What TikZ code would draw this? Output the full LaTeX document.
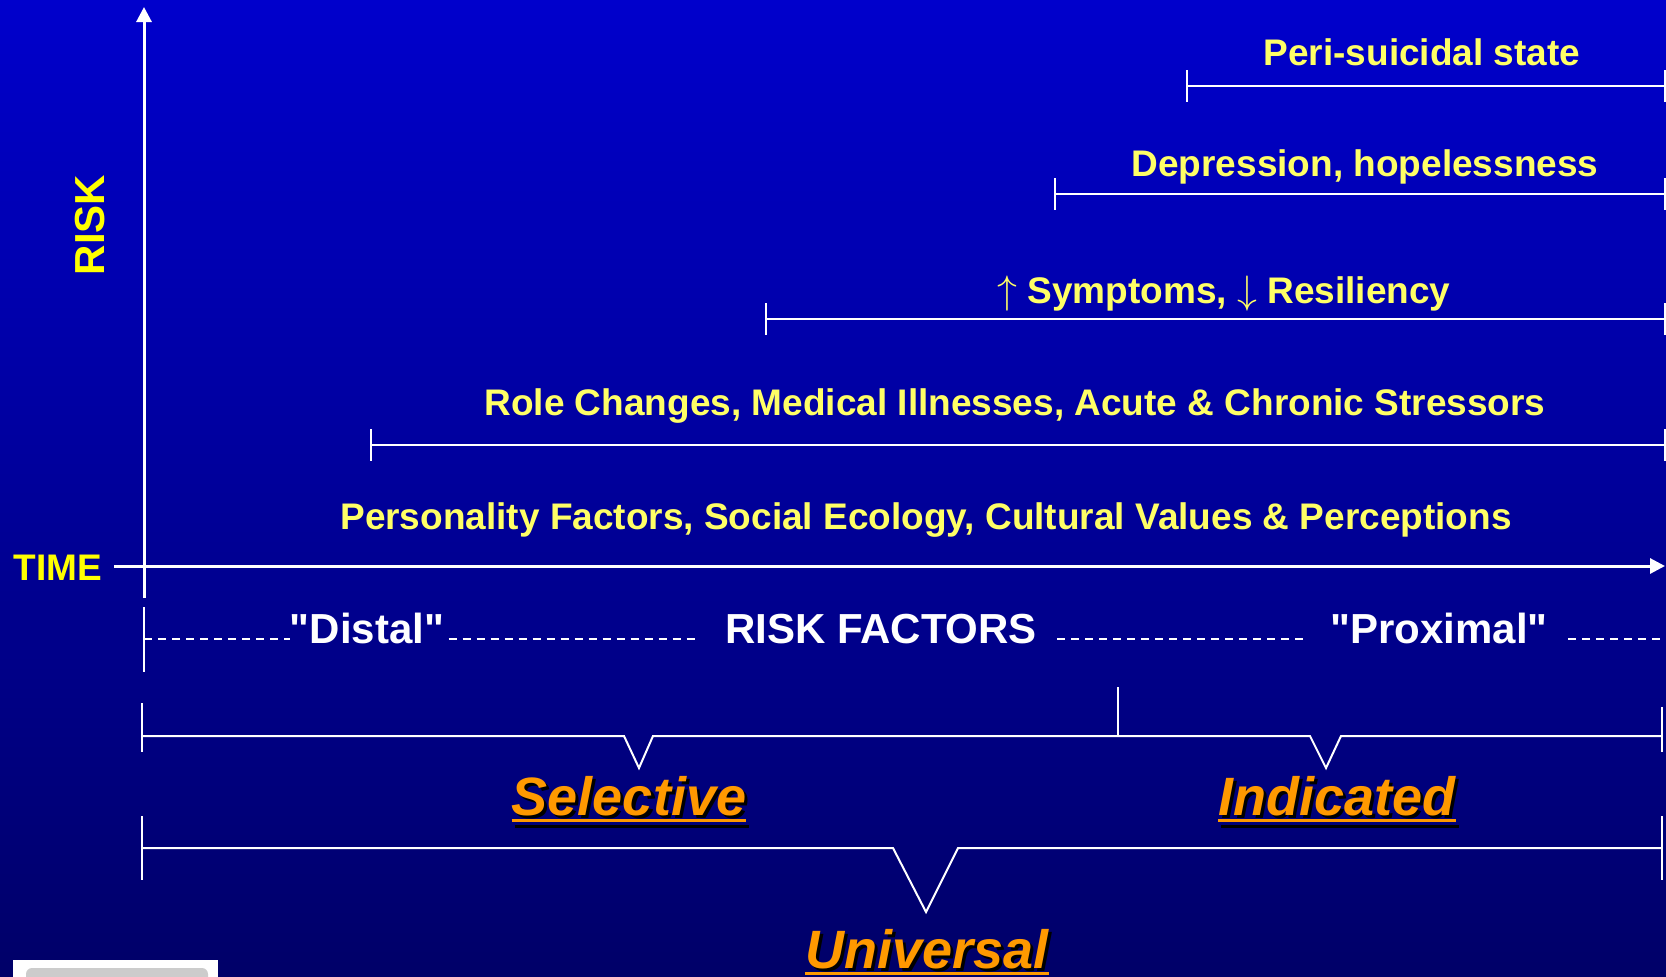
\documentclass[tikz,border=0pt]{standalone}
\usepackage{fontspec}
\setmainfont{Liberation Sans}[Ligatures=TeXOff]
\usetikzlibrary{calc,arrows.meta}
\definecolor{bgtop}{RGB}{0,0,204}
\definecolor{bgbot}{RGB}{0,0,104}
\definecolor{ylw}{RGB}{255,255,102}
\definecolor{ylwstrong}{RGB}{255,255,0}
\definecolor{org}{RGB}{255,153,0}
\definecolor{boxgray}{RGB}{204,204,204}
\begin{document}
\begin{tikzpicture}[x=0.5pt,y=-0.5pt,
  thinline/.style={draw=white,line width=1pt},
  axisline/.style={draw=white,line width=1.5pt,-{Triangle[length=7.5pt,width=7.5pt]}},
  dashline/.style={draw=white,line width=1pt,dash pattern=on 4pt off 3pt},
  factor/.style={text=ylw,font=\bfseries\fontsize{18.5}{22}\selectfont,inner sep=0,anchor=base},
  axislabel/.style={text=ylwstrong,font=\bfseries\fontsize{18.5}{22}\selectfont,inner sep=0,anchor=base},
  whitelabel/.style={text=white,font=\bfseries\fontsize{21}{25}\selectfont,inner sep=0,anchor=base},
  prevlabel/.style={text=org,font=\bfseries\itshape\fontsize{27}{32}\selectfont,inner sep=0,anchor=base},
  prevshadow/.style={text=black,font=\bfseries\itshape\fontsize{27}{32}\selectfont,inner sep=0,anchor=base},
  uline/.style={draw=org,line width=1.5pt},
  ulineshadow/.style={draw=black,line width=1.5pt}]
\clip (0,0) rectangle (1666,976);
\shade[top color=bgtop,bottom color=bgbot] (0,0) rectangle (1666,976);

% corner box
\fill[white] (13,960) rectangle (218,990);
\fill[boxgray,rounded corners=3pt] (26,968) rectangle (208,1000);

% axes
\coordinate (yb) at (144,598);
\coordinate (yt) at (144,7);
\coordinate (xl) at (114,566);
\coordinate (xr) at (1665,566);
\draw[axisline] (yb) -- (yt);
\draw[axisline] (xl) -- (xr);
\node[axislabel] (time) at (58,580) {TIME};
\node[text=ylwstrong,font=\bfseries\fontsize{21}{25}\selectfont,inner sep=0,anchor=base,rotate=90] (risk) at (104,225) {RISK};

% factor lines
\coordinate (a1) at (1187,86);  \coordinate (b1) at (1665,86);
\coordinate (a2) at (1055,194); \coordinate (b2) at (1665,194);
\coordinate (a3) at (766,319);  \coordinate (b3) at (1665,319);
\coordinate (a4) at (371,445);  \coordinate (b4) at (1665,445);
\foreach \i in {1,2,3,4}{
  \draw[thinline] (a\i) -- (b\i);
  \draw[thinline] ($(a\i)+(0,-16)$) -- ($(a\i)+(0,16)$);
  \draw[thinline] ($(b\i)+(0,-16)$) -- ($(b\i)+(0,16)$);
}
\node[factor] (peri) at (1422,65) {Peri-suicidal state};
\node[factor] (dep) at (1365,176) {Depression, hopelessness};
\node[factor] (sym) at (1224,303) {\scalebox{1.15}{$\uparrow$} Symptoms, \scalebox{1.15}{$\downarrow$} Resiliency};
\node[factor] (role) at (1015,415) {Role Changes, Medical Illnesses, Acute \& Chronic Stressors};
\node[factor] (pers) at (926,529) {Personality Factors, Social Ecology, Cultural Values \& Perceptions};

% risk factors dashed row
\coordinate (dt) at (144,607);
\coordinate (db) at (144,672);
\draw[thinline] (dt) -- (db);
\node[whitelabel] (distal) at (367,643) {"Distal"};
\node[whitelabel] (rf) at (881,643) {RISK FACTORS};
\node[whitelabel] (prox) at (1439,643) {"Proximal"};
\coordinate (d0) at (144,639);
\coordinate (d1) at (1666,639);
\draw[dashline] (d0) -- (d0 -| distal.west);
\draw[dashline] ($(d0 -| distal.east)+(4,0)$) -- ($(d0 -| rf.west)+(-30,0)$);
\draw[dashline] ($(d0 -| rf.east)+(20,0)$) -- ($(d0 -| prox.west)+(-26,0)$);
\draw[dashline] ($(d0 -| prox.east)+(20,0)$) -- (d1);

% selective / indicated brace
\coordinate (s0) at (142,736);
\coordinate (s1) at (624,736);
\coordinate (stip) at (639,768);
\coordinate (s2) at (653,736);
\coordinate (s3) at (1310,736);
\coordinate (itip) at (1326,768);
\coordinate (s4) at (1341,736);
\coordinate (s5) at (1662,736);
\draw[thinline] (s0) -- (s1) -- (stip) -- (s2) -- (s3) -- (itip) -- (s4) -- (s5);
\draw[thinline] (142,703) -- (142,752);
\draw[thinline] (1118,687) -- (1118,736);
\draw[thinline] (1662,707) -- (1662,752);

% universal brace
\coordinate (u0) at (142,848);
\coordinate (u1) at (893,848);
\coordinate (utip) at (926,912);
\coordinate (u2) at (958,848);
\coordinate (u3) at (1662,848);
\draw[thinline] (u0) -- (u1) -- (utip) -- (u2) -- (u3);
\draw[thinline] (142,816) -- (142,880);
\draw[thinline] (1662,816) -- (1662,880);

% prevention labels with shadow
\node[prevshadow] (selsh) at (632,818) {Selective};
\draw[ulineshadow] ($(selsh.base west)+(0,8)$) -- ($(selsh.base east)+(0,8)$);
\node[prevlabel] (sel) at (629,815) {Selective};
\draw[uline] ($(sel.base west)+(0,5)$) -- ($(sel.base east)+(0,5)$);

\node[prevshadow] (indsh) at (1340,818) {Indicated};
\draw[ulineshadow] ($(indsh.base west)+(0,8)$) -- ($(indsh.base east)+(0,8)$);
\node[prevlabel] (ind) at (1337,815) {Indicated};
\draw[uline] ($(ind.base west)+(0,5)$) -- ($(ind.base east)+(0,5)$);

\node[prevshadow] (unish) at (930,971) {Universal};
\draw[ulineshadow] ($(unish.base west)+(0,8)$) -- ($(unish.base east)+(0,8)$);
\node[prevlabel] (uni) at (927,968) {Universal};
\draw[uline] ($(uni.base west)+(0,5)$) -- ($(uni.base east)+(0,5)$);
\end{tikzpicture}
\end{document}
